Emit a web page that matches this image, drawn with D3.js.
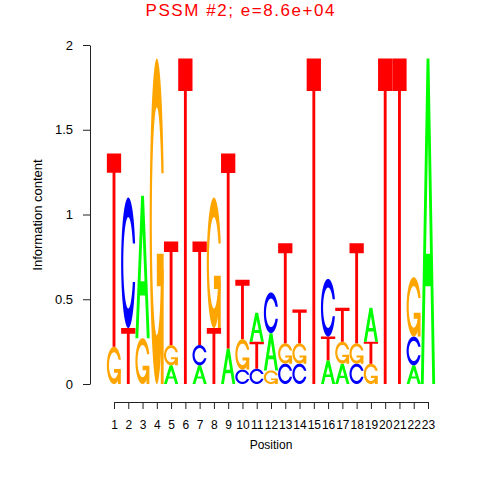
<!DOCTYPE html>
<html>
  <head>
    <script src="https://cdn.jsdelivr.net/npm/d3@7"></script>
    <style>
      body { margin: 0; background: #fff; }
      text { font-family: "Liberation Sans", Arial, sans-serif; }
    </style>
  </head>
  <body>
    <svg id="chart"></svg>
    <script>
      // information content per position, one array per base
      var positions = d3.range(1, 24);
      var baseA = [0, 0, 0.84, 0, 0.11, 0, 0.11, 0, 0.21, 0, 0.17, 0.22, 0, 0, 0, 0.14, 0.12, 0, 0.2, 0, 0, 0.11, 1.92];
      var baseC = [0, 0.77, 0, 0, 0, 0, 0.12, 0, 0, 0.085, 0.09, 0.24, 0.12, 0.12, 0, 0.34, 0, 0.12, 0, 0, 0, 0.17, 0];
      var baseG = [0.22, 0, 0.27, 1.92, 0.12, 0, 0, 0.77, 0, 0.18, 0, 0.08, 0.12, 0.12, 0, 0, 0.13, 0.12, 0.12, 0, 0, 0.35, 0];
      var baseT = [1.14, 0.33, 0, 0, 0.61, 1.92, 0.61, 0.33, 1.15, 0.35, 0.16, 0, 0.59, 0.2, 1.92, 0.14, 0.2, 0.59, 0.13, 1.92, 1.92, 0, 0];
      var yTicks = [0, 0.5, 1, 1.5, 2];

      var colors = { A: "#00ff00", C: "#0000ff", G: "#ffa500", T: "#ff0000" };

      var svg = d3.select("#chart").attr("width", 480).attr("height", 480);

      var x = d3.scaleLinear().domain([1, 23]).range([114, 428]);
      var y = d3.scaleLinear().domain([0, 2]).range([384, 45]);
      var colW = x(2) - x(1);

      // letter outlines in a unit box (x right, y up), seqLogo style
      function ring() {
        var a1 = d3.range(100).map(function (i) { return 0.3 + Math.PI / 2 + i * (Math.PI / 2 - 0.3) / 99; });
        var a2 = d3.range(100).map(function (i) { return Math.PI + i * (Math.PI / 2) / 99; });
        var xl1 = a1.map(function (a) { return 0.5 + 0.5 * Math.sin(a); });
        var yl1 = a1.map(function (a) { return 0.5 + 0.5 * Math.cos(a); });
        var xl = xl1.concat(a2.map(function (a) { return 0.5 + 0.5 * Math.sin(a); }));
        var yl = yl1.concat(a2.map(function (a) { return 0.5 + 0.5 * Math.cos(a); }));
        var px = xl.concat(xl.slice().reverse());
        var py = yl.concat(yl.slice().reverse().map(function (v) { return 1 - v; }));
        var hmax = d3.max(yl1);
        var xi1 = [], yi1 = [];
        a1.forEach(function (a) {
          var yy = 0.5 + 0.35 * Math.cos(a);
          if (yy <= hmax) { xi1.push(0.5 + 0.35 * Math.sin(a)); yi1.push(yy); }
        });
        yi1[0] = hmax;
        var xi = xi1.concat(a2.map(function (a) { return 0.5 + 0.35 * Math.sin(a); }));
        var yi = yi1.concat(a2.map(function (a) { return 0.5 + 0.35 * Math.cos(a); }));
        var qx = xi.concat(xi.slice().reverse());
        var qy = yi.concat(yi.slice().reverse().map(function (v) { return 1 - v; }));
        px = px.concat(qx.slice().reverse());
        py = py.concat(qy.slice().reverse());
        return { pts: px.map(function (v, i) { return [v, py[i]]; }), r1: d3.max(xl1) };
      }
      var ringC = ring();
      var r1 = ringC.r1;
      var shapes = {
        A: [
          { pts: [[0, 0], [0.4, 1], [0.6, 1], [1, 0], [0.8, 0], [0.68, 0.3], [0.32, 0.3], [0.2, 0]], hole: false },
          { pts: [[0.36, 0.4], [0.5, 0.75], [0.64, 0.4]], hole: true }
        ],
        C: [{ pts: ringC.pts, hole: false }],
        G: [
          { pts: ringC.pts, hole: false },
          { pts: [[r1, 0.4], [0.5, 0.4], [0.5, 0.3], [r1 - 0.2, 0.3], [r1 - 0.2, 0], [r1, 0]], hole: false }
        ],
        T: [{ pts: [[0, 1], [1, 1], [1, 0.9], [0.6, 0.9], [0.6, 0], [0.4, 0], [0.4, 0.9], [0, 0.9]], hole: false }]
      };

      // stack letters, smallest at the bottom
      var pieces = [];
      positions.forEach(function (p, i) {
        var col = [
          { l: "A", v: baseA[i] },
          { l: "C", v: baseC[i] },
          { l: "G", v: baseG[i] },
          { l: "T", v: baseT[i] }
        ].filter(function (d) { return d.v > 0; });
        col.sort(function (a, b) { return a.v - b.v; });
        var acc = 0;
        col.forEach(function (d) {
          shapes[d.l].forEach(function (s) {
            pieces.push({ pos: p, l: d.l, y0: acc, y1: acc + d.v, s: s });
          });
          acc += d.v;
        });
      });

      svg.append("g")
        .selectAll("path")
        .data(pieces)
        .enter()
        .append("path")
        .attr("fill", function (d) { return d.s.hole ? "#fff" : colors[d.l]; })
        .attr("d", function (d) {
          var x0 = x(d.pos) - colW / 2;
          var yb = y(d.y0);
          var h = y(d.y0) - y(d.y1);
          return "M" + d.s.pts.map(function (q) {
            return (x0 + q[0] * colW).toFixed(2) + "," + (yb - q[1] * h).toFixed(2);
          }).join("L") + "Z";
        });

      // y axis
      var gy = svg.append("g")
        .attr("transform", "translate(90,0)")
        .call(d3.axisLeft(y).tickValues(yTicks).tickSize(7).tickSizeOuter(0).tickPadding(10).tickFormat(function (d) { return d; }));
      gy.selectAll("text").attr("font-size", 13).attr("font-family", null).attr("fill", "#000");
      gy.selectAll("line,path").attr("stroke", "#222");

      // x axis
      var gx = svg.append("g")
        .attr("transform", "translate(0,402)")
        .call(d3.axisBottom(x).tickValues(positions).tickSize(7).tickSizeOuter(0).tickPadding(11).tickFormat(function (d) { return d; }));
      gx.selectAll("text").attr("font-size", 12).attr("font-family", null).attr("fill", "#000");
      gx.selectAll("line,path").attr("stroke", "#222");

      // labels
      svg.append("text")
        .attr("x", 271)
        .attr("y", 449)
        .attr("text-anchor", "middle")
        .attr("font-size", 12)
        .text("Position");

      svg.append("text")
        .attr("transform", "translate(42,215) rotate(-90)")
        .attr("text-anchor", "middle")
        .attr("font-size", 13)
        .text("Information content");

      svg.append("text")
        .attr("x", 240)
        .attr("y", 16)
        .attr("text-anchor", "middle")
        .attr("font-size", 17)
        .attr("fill", "#ff0000")
        .attr("textLength", 189)
        .attr("lengthAdjust", "spacing")
        .text("PSSM #2; e=8.6e+04");
    </script>
  </body>
</html>
